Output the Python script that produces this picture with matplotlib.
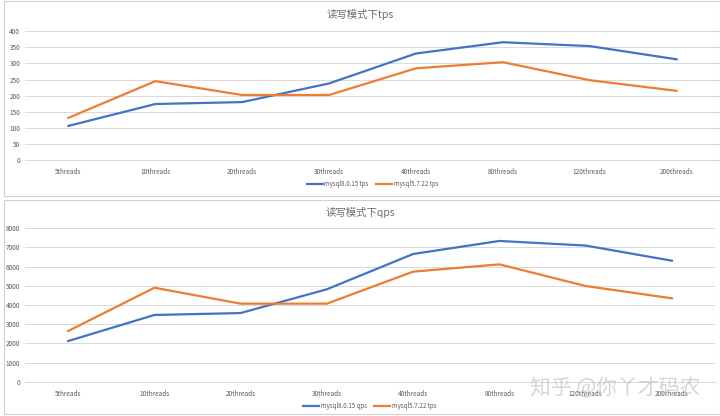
import matplotlib.pyplot as plt
from matplotlib.patches import Rectangle

plt.rcParams['font.family'] = ['Noto Sans CJK SC', 'DejaVu Sans']

# 数据
categories = ['5threads', '10threads', '20threads', '30threads',
              '40threads', '80threads', '120threads', '200threads']
tps_mysql8 = [106, 174, 180, 238, 331, 366, 354, 313]
tps_mysql57 = [131, 245, 202, 202, 285, 304, 248, 215]
qps_mysql8 = [2120, 3480, 3580, 4820, 6660, 7340, 7100, 6310]
qps_mysql57 = [2640, 4900, 4070, 4070, 5740, 6120, 4990, 4350]

blue = '#4472C4'
orange = '#ED7D31'
grid_c = '#D9D9D9'
text_c = '#595959'

W, H = 720, 416
fig = plt.figure(figsize=(W / 100, H / 100), dpi=100)
fig.patch.set_facecolor('white')

# 面板边框
fig.patches.append(Rectangle((4 / W, 1 - 196 / H), 716 / W, 195 / H, transform=fig.transFigure,
                             fill=False, edgecolor='#D0D0D0', lw=0.8))
fig.patches.append(Rectangle((4 / W, 1 - 414 / H), 716 / W, 214 / H, transform=fig.transFigure,
                             fill=False, edgecolor='#D0D0D0', lw=0.8))


# 画一张折线图
def draw(rect, s1, s2, labels, ymax, step, title, title_y, leg_y):
    ax = fig.add_axes(rect)
    x = range(len(categories))
    ax.plot(x, s1, color=blue, lw=1.6, label=labels[0])
    ax.plot(x, s2, color=orange, lw=1.6, label=labels[1])
    ax.set_xlim(-0.5, len(categories) - 0.5)
    ax.set_ylim(0, ymax)
    ax.set_yticks(range(0, ymax + 1, step))
    ax.set_xticks(list(x))
    ax.set_xticklabels(categories)
    ax.tick_params(axis='both', length=0, labelsize=4.6, colors=text_c)
    ax.tick_params(axis='x', pad=6)
    ax.grid(axis='y', color=grid_c, lw=0.7)
    ax.set_axisbelow(True)
    for s in ax.spines.values():
        s.set_visible(False)
    ax.spines['bottom'].set_visible(True)
    ax.spines['bottom'].set_color(grid_c)
    ax.spines['bottom'].set_linewidth(0.7)
    fig.text(0.5, 1 - title_y / H, title, ha='center', va='center', fontsize=7.5, color='#6E6E6E')
    # 图例位置换算到坐标轴坐标
    top = rect[1] + rect[3]
    ly = (1 - leg_y / H - rect[1]) / rect[3]
    ax.legend(loc='center', bbox_to_anchor=(0.5, ly), ncol=2, frameon=False,
              fontsize=4.4, labelcolor=text_c, handlelength=2.6, columnspacing=1.2,
              handletextpad=0.3)
    return ax


ax1 = draw([25 / W, 1 - 160 / H, 695 / W, 128.7 / H], tps_mysql8, tps_mysql57,
           ['mysql8.0.15 tps', 'mysql5.7.22 tps'], 400, 50, '读写模式下tps', 15, 184)
ax2 = draw([25 / W, 1 - 381.7 / H, 690 / W, 153.4 / H], qps_mysql8, qps_mysql57,
           ['mysql8.0.15 qps', 'mysql5.7.22 tps'], 8000, 1000, '读写模式下qps', 212, 406)

# 水印
fig.text(615 / W, 1 - 388 / H, '知乎 @你丫才码农', ha='center', va='center', fontsize=15,
         color='#BBBBBB', alpha=0.6)

fig.savefig('out.png', dpi=100)
